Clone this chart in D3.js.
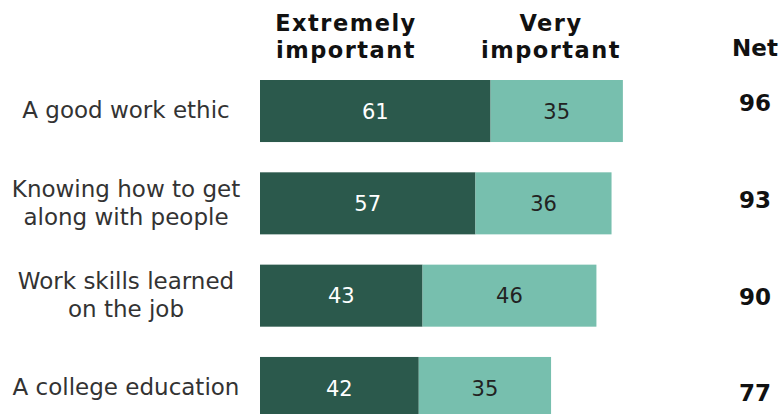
<!DOCTYPE html>
<html><head><meta charset="utf-8">
<script src="https://cdn.jsdelivr.net/npm/d3@7"></script>
<style>body{margin:0;background:#fff}svg{display:block}text{font-family:"DejaVu Sans",Verdana,sans-serif}</style>
</head><body><svg id="c" width="782" height="414"></svg>
<script>
const categories = [["A good work ethic"],["Knowing how to get","along with people"],["Work skills learned","on the job"],["A college education"]];
const extremely = [61,57,43,42];
const very = [35,36,46,35];
const net = [96,93,90,77];
const seriesNames = [["Extremely","important"],["Very","important"]];
const netLabel = "Net";

const svg = d3.select("#c");
const x = d3.scaleLinear().domain([0,100]).range([260,638]);
const y = d3.scaleBand().domain(d3.range(categories.length)).range([80,419]).paddingInner(0.328).paddingOuter(0);
const colors = ["#2b594c","#77bfae"];
const bh = y.bandwidth();
const netY = [103,200,297,393];

categories.forEach((c,i)=>{
  const y0 = y(i);
  const segs = [[0,extremely[i]],[extremely[i],extremely[i]+very[i]]];
  segs.forEach((s,j)=>{
    svg.append("rect").attr("x",x(s[0])).attr("y",y0).attr("width",x(s[1])-x(s[0])).attr("height",bh)
      .attr("fill",colors[j]);
    svg.append("text").attr("x",(x(s[0])+x(s[1]))/2).attr("y",y0+bh/2).attr("dy","0.36em")
      .attr("text-anchor","middle").attr("font-size",21).attr("fill",j===0?"#fff":"#222")
      .text(j===0?extremely[i]:very[i]);
  });
  const t = svg.append("text").attr("x",126).attr("text-anchor","middle").attr("font-size",23).attr("fill","#333");
  const n = c.length;
  c.forEach((line,k)=>{
    t.append("tspan").attr("x",126).attr("y",y0+bh/2-1+(k-(n-1)/2)*28).attr("dy","0.36em").text(line);
  });
  svg.append("text").attr("x",755).attr("y",netY[i]).attr("dy","0.36em").attr("text-anchor","middle")
    .attr("font-size",23).attr("font-weight","bold").attr("fill","#111").text(net[i]);
});

const hx = [346, 551];
seriesNames.forEach((s,j)=>{
  s.forEach((line,k)=>{
    svg.append("text").attr("x",hx[j]).attr("y",23+k*27).attr("dy","0.36em").attr("text-anchor","middle")
      .attr("font-size",22.5).attr("letter-spacing",1.5).attr("font-weight","bold").attr("fill","#111").text(line);
  });
});
svg.append("text").attr("x",755).attr("y",48).attr("dy","0.36em").attr("text-anchor","middle")
  .attr("font-size",23).attr("font-weight","bold").attr("fill","#111").text(netLabel);
</script></body></html>
